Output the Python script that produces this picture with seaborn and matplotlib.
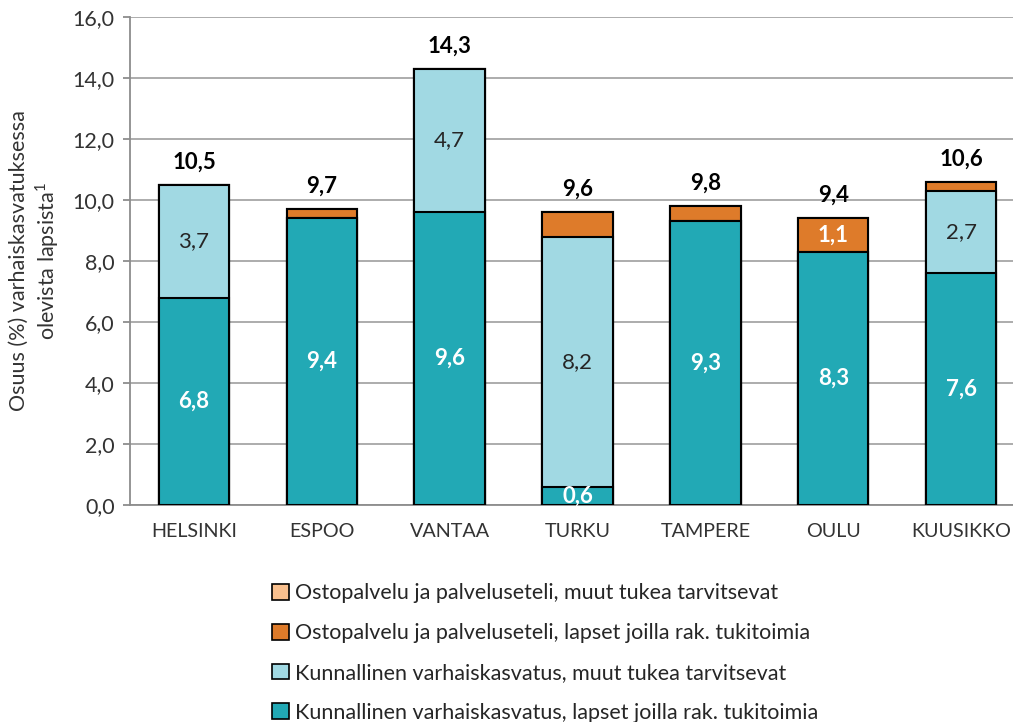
import matplotlib
matplotlib.use("Agg")
import matplotlib.pyplot as plt
import seaborn as sns
import numpy as np
import pandas as pd
from matplotlib.patches import Patch

cities = ["HELSINKI", "ESPOO", "VANTAA", "TURKU", "TAMPERE", "OULU", "KUUSIKKO"]
kunn_tuki = [6.8, 9.4, 9.6, 0.6, 9.3, 8.3, 7.6]
kunn_muut = [3.7, 0.0, 4.7, 8.2, 0.0, 0.0, 2.7]
osto_tuki = [0.0, 0.3, 0.0, 0.8, 0.5, 1.1, 0.3]
osto_muut = [0.0, 0.0, 0.0, 0.0, 0.0, 0.0, 0.0]
totals = [10.5, 9.7, 14.3, 9.6, 9.8, 9.4, 10.6]

series_names = [
    "Kunnallinen varhaiskasvatus, lapset joilla rak. tukitoimia",
    "Kunnallinen varhaiskasvatus, muut tukea tarvitsevat",
    "Ostopalvelu ja palveluseteli, lapset joilla rak. tukitoimia",
    "Ostopalvelu ja palveluseteli, muut tukea tarvitsevat",
]
colors = ["#22A9B5", "#A1D9E3", "#DE7B2A", "#F9C08E"]
yticks = [0, 2, 4, 6, 8, 10, 12, 14, 16]

sns.set_theme(style="white")
plt.rcParams["font.family"] = ["Lato", "DejaVu Sans"]
plt.rcParams["mathtext.fontset"] = "custom"
plt.rcParams["mathtext.rm"] = "Lato"

fig = plt.figure(figsize=(10.13, 7.22), dpi=100)
ax = fig.add_axes([130 / 1013, (722 - 505) / 722, (1025 - 130) / 1013, (505 - 17) / 722])

values = [kunn_tuki, kunn_muut, osto_tuki, osto_muut]
cum = np.cumsum(np.array(values), axis=0)
df = pd.DataFrame({"city": cities})
# draw from top of stack downward so lower segments overlay upper cumulative bars
for i in range(3, -1, -1):
    df["v"] = cum[i]
    sns.barplot(data=df, x="city", y="v", color=colors[i], saturation=1,
                width=0.55, edgecolor="black", linewidth=1.5, ax=ax, zorder=3)

ax.set_ylim(0, 16)
ax.set_xlim(-0.5, 6.5)
ax.set_yticks(yticks)
ax.set_yticklabels([f"{t:.1f}".replace(".", ",") for t in yticks], fontsize=15.5, color="#333333")
ax.tick_params(axis="x", labelsize=14.2, colors="#333333", length=0, pad=13)
ax.tick_params(axis="y", length=5, width=1.3, color="#8C8C8C", direction="out", left=True, pad=6)
ax.set_xlabel("")
ax.set_ylabel("Osuus (%) varhaiskasvatuksessa\nolevista lapsista$^{\\mathregular{1}}$",
              fontsize=15.5, color="#333333", labelpad=8)
ax.yaxis.grid(True, color="#A6A6A6", linewidth=1.3, zorder=0)
ax.set_axisbelow(True)
for s in ["top", "right"]:
    ax.spines[s].set_visible(False)
for s in ["left", "bottom"]:
    ax.spines[s].set_color("#8C8C8C")
    ax.spines[s].set_linewidth(1.3)

fmt = lambda v: f"{v:.1f}".replace(".", ",")
for j in range(len(cities)):
    v = kunn_tuki[j]
    ax.text(j, v / 2, fmt(v), ha="center", va="center", color="white",
            fontsize=16, fontweight="bold", zorder=5)
    v2 = kunn_muut[j]
    if v2 > 0.5:
        ax.text(j, kunn_tuki[j] + v2 / 2, fmt(v2), ha="center", va="center",
                color="#262626", fontsize=16, zorder=5)
    v3 = osto_tuki[j]
    if v3 >= 1.0:
        ax.text(j, kunn_tuki[j] + kunn_muut[j] + v3 / 2, fmt(v3), ha="center", va="center",
                color="white", fontsize=16, fontweight="bold", zorder=5)
    ax.text(j, totals[j] + 0.75, fmt(totals[j]), ha="center", va="center",
            color="black", fontsize=16, fontweight="bold", zorder=5)

handles = [Patch(facecolor=colors[i], edgecolor="black", linewidth=1.2, label=series_names[i])
           for i in range(3, -1, -1)]
fig.legend(handles=handles, loc="upper left", bbox_to_anchor=(253 / 1013, 1 - 564 / 722),
           frameon=False, fontsize=15.5, handlelength=0.75, handleheight=0.75,
           handletextpad=0.3, labelspacing=0.92, labelcolor="#262626")

fig.savefig("out.png", dpi=100)
